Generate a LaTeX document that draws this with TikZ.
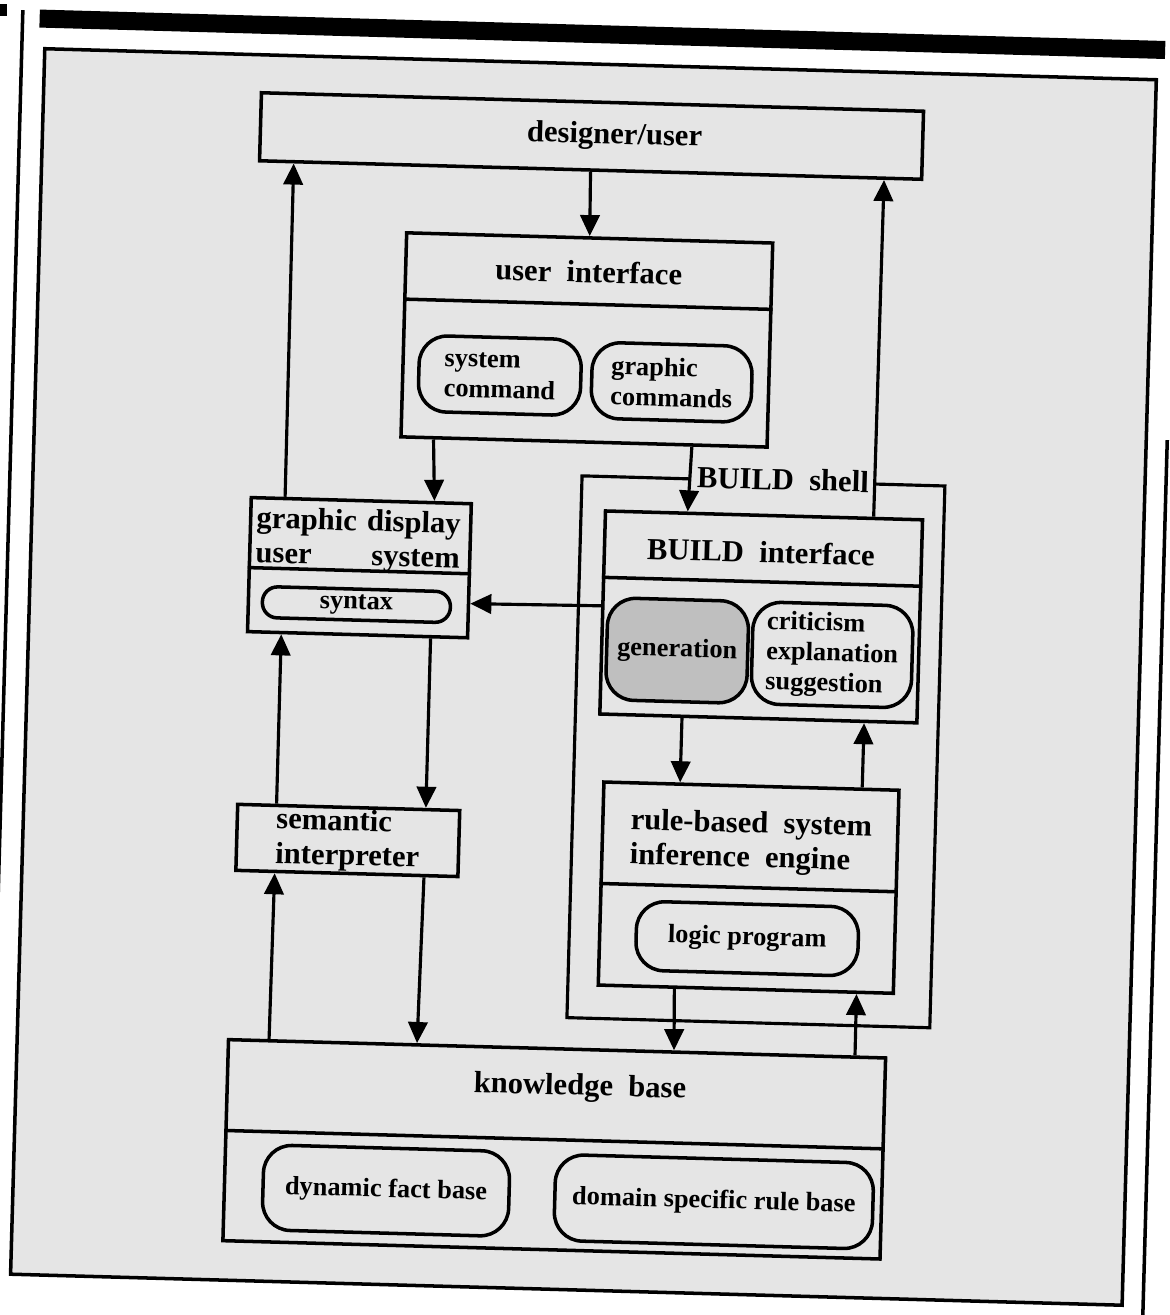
\documentclass[tikz,border=0pt]{standalone}
\usepackage{fontspec}
\setmainfont{Liberation Serif}
\usetikzlibrary{arrows.meta,calc}

\begin{document}
\begin{tikzpicture}[x=0.01cm,y=-0.01cm,
  box/.style={draw,line width=1pt,inner sep=0pt},
  part/.style={draw,line width=1pt,rounded corners=8pt,inner sep=0pt,font=\fontsize{7.5}{8.6}\selectfont\bfseries},
  ttl/.style={inner sep=0pt,font=\fontsize{8.7}{9.8}\selectfont\bfseries},
  arr/.style={line width=0.9pt,-{Triangle[length=6pt,width=5.5pt]}}]
\useasboundingbox (0,0) rectangle (1170,1315);
\clip (0,0) rectangle (1170,1315);
\fill (0,4) rectangle (7,16);
\begin{scope}[rotate around={-1.6:(585,657)},transform shape]
\fill (22,25) rectangle (1148,43);
\draw[line width=1pt] (5,26) -- (5,1400);
\draw[line width=1pt] (1161,424) -- (1161,1400);
\filldraw[fill=black!10,line width=1pt] (28,64) rectangle (1140,1290);

\node[box,ttl,minimum width=6.62cm,minimum height=0.68cm] (designer) at (577,136) {\hspace*{0.46cm}designer/user};

\node[box,minimum width=3.66cm,minimum height=2.04cm] (ui) at (578,340) {};
\node[ttl] (uiT) at (578,272) {user\enspace interface};
\draw[line width=1pt] ($(ui.north west)!0.328!(ui.south west)$) -- ($(ui.north east)!0.328!(ui.south east)$);
\node[part,align=left,minimum width=1.62cm,minimum height=0.76cm] (syscmd) at (492,378) {system\\command};
\node[part,align=left,minimum width=1.60cm,minimum height=0.76cm] (gracmd) at (664,380) {graphic\\commands};

\node[box,minimum width=2.2cm,minimum height=1.34cm] (gd) at (357,574) {};
\node[ttl,text width=2.04cm,align=left] (gdT) at (355,547) {graphic\hfill display\\user\hfill system};
\draw[line width=1pt] ($(gd.north west)!0.522!(gd.south west)$) -- ($(gd.north east)!0.522!(gd.south east)$);
\node[part,rounded corners=4.3pt,minimum width=1.88cm,minimum height=0.31cm] (syntax) at (355,611) {syntax};

\draw[line width=0.9pt] (685,476) -- (577,476) -- (577,1018) -- (940,1018) -- (940,476) -- (869,476);
\node[ttl] (shellT) at (778,474) {BUILD\enspace shell};

\node[box,minimum width=3.17cm,minimum height=2.03cm] (build) at (760,612) {};
\node[ttl] (buildT) at (758,547) {BUILD\enspace interface};
\draw[line width=1pt] ($(build.north west)!0.33!(build.south west)$) -- ($(build.north east)!0.33!(build.south east)$);
\node[part,fill=black!25,minimum width=1.41cm,minimum height=1.02cm] (gen) at (677,648) {generation};
\node[part,align=left,minimum width=1.6cm,minimum height=1.02cm] (crit) at (832,648) {criticism\\explanation\\suggestion};

\node[box,ttl,align=left,minimum width=2.22cm,minimum height=0.66cm] (sem) at (353,847) {semantic\\interpreter};

\node[box,minimum width=2.95cm,minimum height=2.03cm] (inf) at (755,883) {};
\node[ttl,align=left] (infT) at (756,838) {rule-based\enspace system\\inference\enspace engine};
\draw[line width=1pt] ($(inf.north west)!0.5!(inf.south west)$) -- ($(inf.north east)!0.5!(inf.south east)$);
\node[part,minimum width=2.22cm,minimum height=0.69cm] (logic) at (755,934) {logic program};

\node[box,minimum width=6.57cm,minimum height=2.01cm] (kb) at (568,1150) {};
\node[ttl] (kbT) at (592,1088) {knowledge\enspace base};
\draw[line width=1pt] ($(kb.north west)!0.453!(kb.south west)$) -- ($(kb.north east)!0.453!(kb.south east)$);
\node[part,minimum width=2.46cm,minimum height=0.85cm] (dyn) at (401,1196) {dynamic fact base};
\node[part,minimum width=3.18cm,minimum height=0.86cm] (dom) at (729,1198) {domain specific rule base};

\draw[arr] (designer.south) -- (ui.north);
\draw[arr] ($(gd.north west)!0.159!(gd.north east)$) -- ($(designer.south west)!0.054!(designer.south east)$);
\draw[arr] ($(build.north west)!0.842!(build.north east)$) -- ($(designer.south west)!0.941!(designer.south east)$);
\draw[arr] ($(ui.south west)!0.093!(ui.south east)$) -- ($(gd.north west)!0.827!(gd.north east)$);
\draw[arr] ($(ui.south west)!0.792!(ui.south east)$) -- ($(build.north west)!0.262!(build.north east)$);
\draw[arr] ($(build.north west)!0.468!(build.south west)$) -- ($(gd.north east)!0.739!(gd.south east)$);
\draw[arr] ($(sem.north west)!0.180!(sem.north east)$) -- ($(gd.south west)!0.159!(gd.south east)$);
\draw[arr] ($(gd.south west)!0.827!(gd.south east)$) -- ($(sem.north west)!0.842!(sem.north east)$);
\draw[arr] ($(kb.north west)!0.064!(kb.north east)$) -- ($(sem.south west)!0.180!(sem.south east)$);
\draw[arr] ($(sem.south west)!0.842!(sem.south east)$) -- ($(kb.north west)!0.288!(kb.north east)$);
\draw[arr] ($(build.south west)!0.262!(build.south east)$) -- ($(inf.north west)!0.261!(inf.north east)$);
\draw[arr] ($(inf.north west)!0.871!(inf.north east)$) -- ($(build.south west)!0.830!(build.south east)$);
\draw[arr] ($(inf.south west)!0.261!(inf.south east)$) -- ($(kb.north west)!0.677!(kb.north east)$);
\draw[arr] ($(kb.north west)!0.951!(kb.north east)$) -- ($(inf.south west)!0.871!(inf.south east)$);
\end{scope}
\end{tikzpicture}
\end{document}
